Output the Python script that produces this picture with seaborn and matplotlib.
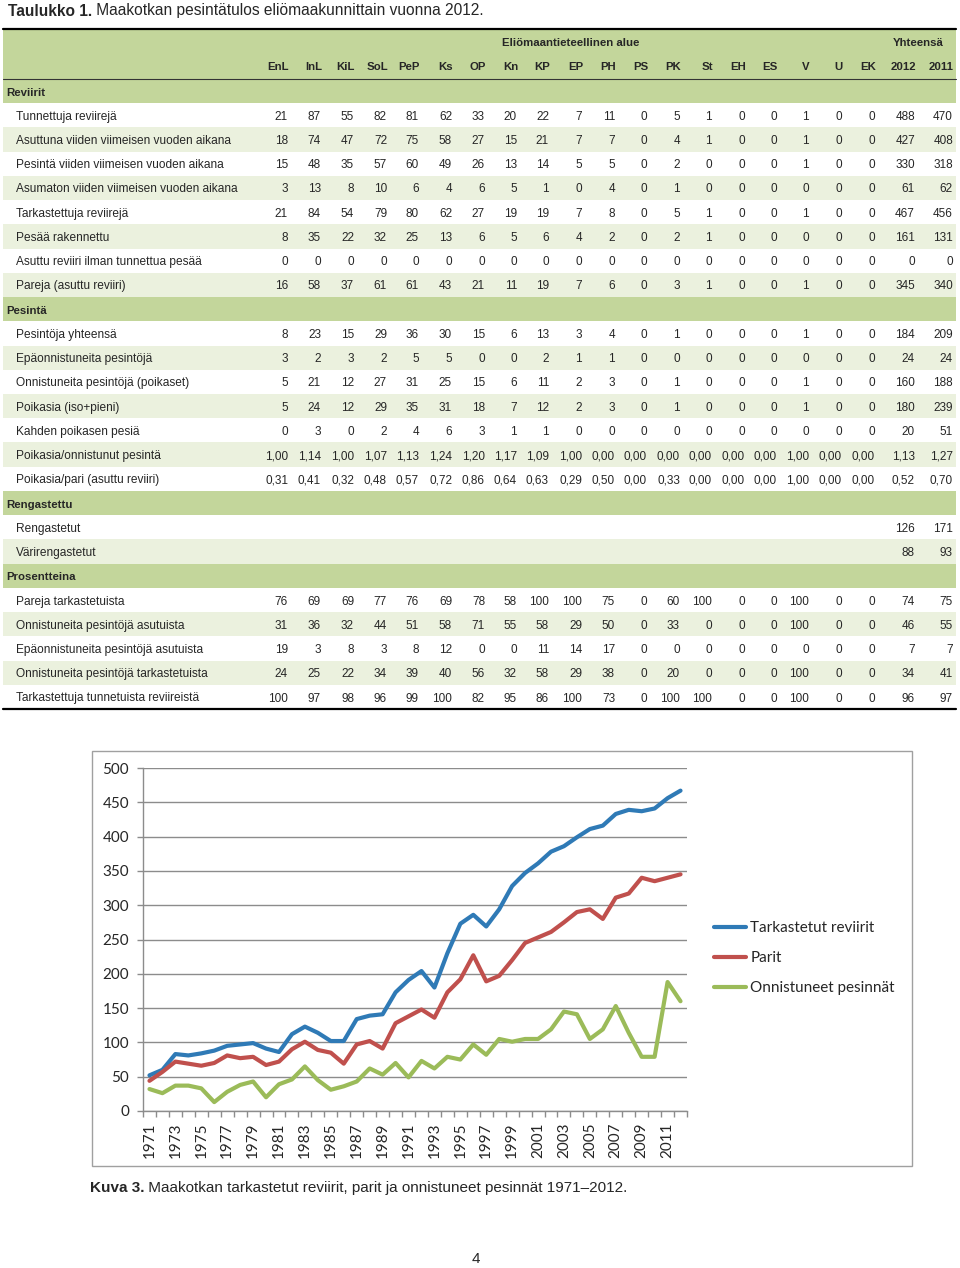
import matplotlib
matplotlib.use("Agg")
import matplotlib.pyplot as plt
from matplotlib import font_manager
from matplotlib.patches import Rectangle
import numpy as np
import pandas as pd
import seaborn as sns

# ---------------- table data ----------------
columns = ["EnL", "InL", "KiL", "SoL", "PeP", "Ks", "OP", "Kn", "KP", "EP", "PH",
           "PS", "PK", "St", "EH", "ES", "V", "U", "EK", "2012", "2011"]

reviirit_rows = [
    ("Tunnettuja reviirejä", [21, 87, 55, 82, 81, 62, 33, 20, 22, 7, 11, 0, 5, 1, 0, 0, 1, 0, 0, 488, 470]),
    ("Asuttuna viiden viimeisen vuoden aikana", [18, 74, 47, 72, 75, 58, 27, 15, 21, 7, 7, 0, 4, 1, 0, 0, 1, 0, 0, 427, 408]),
    ("Pesintä viiden viimeisen vuoden aikana", [15, 48, 35, 57, 60, 49, 26, 13, 14, 5, 5, 0, 2, 0, 0, 0, 1, 0, 0, 330, 318]),
    ("Asumaton viiden viimeisen vuoden aikana", [3, 13, 8, 10, 6, 4, 6, 5, 1, 0, 4, 0, 1, 0, 0, 0, 0, 0, 0, 61, 62]),
    ("Tarkastettuja reviirejä", [21, 84, 54, 79, 80, 62, 27, 19, 19, 7, 8, 0, 5, 1, 0, 0, 1, 0, 0, 467, 456]),
    ("Pesää rakennettu", [8, 35, 22, 32, 25, 13, 6, 5, 6, 4, 2, 0, 2, 1, 0, 0, 0, 0, 0, 161, 131]),
    ("Asuttu reviiri ilman tunnettua pesää", [0, 0, 0, 0, 0, 0, 0, 0, 0, 0, 0, 0, 0, 0, 0, 0, 0, 0, 0, 0, 0]),
    ("Pareja (asuttu reviiri)", [16, 58, 37, 61, 61, 43, 21, 11, 19, 7, 6, 0, 3, 1, 0, 0, 1, 0, 0, 345, 340]),
]

pesinta_rows = [
    ("Pesintöja yhteensä", [8, 23, 15, 29, 36, 30, 15, 6, 13, 3, 4, 0, 1, 0, 0, 0, 1, 0, 0, 184, 209]),
    ("Epäonnistuneita pesintöjä", [3, 2, 3, 2, 5, 5, 0, 0, 2, 1, 1, 0, 0, 0, 0, 0, 0, 0, 0, 24, 24]),
    ("Onnistuneita pesintöjä (poikaset)", [5, 21, 12, 27, 31, 25, 15, 6, 11, 2, 3, 0, 1, 0, 0, 0, 1, 0, 0, 160, 188]),
    ("Poikasia (iso+pieni)", [5, 24, 12, 29, 35, 31, 18, 7, 12, 2, 3, 0, 1, 0, 0, 0, 1, 0, 0, 180, 239]),
    ("Kahden poikasen pesiä", [0, 3, 0, 2, 4, 6, 3, 1, 1, 0, 0, 0, 0, 0, 0, 0, 0, 0, 0, 20, 51]),
    ("Poikasia/onnistunut pesintä", [1.00, 1.14, 1.00, 1.07, 1.13, 1.24, 1.20, 1.17, 1.09, 1.00, 0.00, 0.00,
                                    0.00, 0.00, 0.00, 0.00, 1.00, 0.00, 0.00, 1.13, 1.27]),
    ("Poikasia/pari (asuttu reviiri)", [0.31, 0.41, 0.32, 0.48, 0.57, 0.72, 0.86, 0.64, 0.63, 0.29, 0.50, 0.00,
                                       0.33, 0.00, 0.00, 0.00, 1.00, 0.00, 0.00, 0.52, 0.70]),
]

rengas_rows = [
    ("Rengastetut", [None] * 19 + [126, 171]),
    ("Värirengastetut", [None] * 19 + [88, 93]),
]

prosentti_rows = [
    ("Pareja tarkastetuista", [76, 69, 69, 77, 76, 69, 78, 58, 100, 100, 75, 0, 60, 100, 0, 0, 100, 0, 0, 74, 75]),
    ("Onnistuneita pesintöjä asutuista", [31, 36, 32, 44, 51, 58, 71, 55, 58, 29, 50, 0, 33, 0, 0, 0, 100, 0, 0, 46, 55]),
    ("Epäonnistuneita pesintöjä asutuista", [19, 3, 8, 3, 8, 12, 0, 0, 11, 14, 17, 0, 0, 0, 0, 0, 0, 0, 0, 7, 7]),
    ("Onnistuneita pesintöjä tarkastetuista", [24, 25, 22, 34, 39, 40, 56, 32, 58, 29, 38, 0, 20, 0, 0, 0, 100, 0, 0, 34, 41]),
    ("Tarkastettuja tunnetuista reviireistä", [100, 97, 98, 96, 99, 100, 82, 95, 86, 100, 73, 0, 100, 100, 0, 0, 100, 0, 0, 96, 97]),
]

sections = [("Reviirit", reviirit_rows), ("Pesintä", pesinta_rows),
            ("Rengastettu", rengas_rows), ("Prosentteina", prosentti_rows)]

# ---------------- chart data ----------------
years = list(range(1971, 2013))
tarkastetut = [52, 60, 83, 81, 84, 88, 95, 97, 99, 91,
               86, 112, 123, 114, 102, 102, 134, 139, 141, 173,
               191, 204, 180, 230, 273, 286, 269, 294, 328, 347,
               361, 378, 386, 399, 411, 416, 433, 439, 437, 441,
               456, 467]
parit = [44, 57, 72, 69, 66, 70, 81, 77, 79, 67,
         72, 90, 101, 89, 85, 69, 97, 102, 91, 128,
         138, 148, 136, 173, 192, 227, 189, 197, 220, 245,
         253, 261, 275, 290, 294, 280, 311, 317, 340, 335,
         340, 345]
onnistuneet = [32, 26, 37, 37, 33, 13, 28, 38, 43, 20,
               39, 46, 65, 45, 31, 36, 43, 62, 53, 70,
               49, 73, 62, 79, 75, 97, 82, 105, 101, 105,
               105, 119, 145, 141, 105, 119, 153, 114, 79, 79,
               188, 160]
series_names = ["Tarkastetut reviirit", "Parit", "Onnistuneet pesinnät"]
series_colors = ["#2f7ab6", "#c0504d", "#9bbb59"]

# ---------------- style ----------------
sns.set_theme(style="white")
plt.rcParams["font.family"] = ["Liberation Sans", "DejaVu Sans"]
installed = {f.name for f in font_manager.fontManager.ttflist}
narrow = "Liberation Sans Narrow" if "Liberation Sans Narrow" in installed else "Liberation Sans"
head_size = 9.8 if narrow == "Liberation Sans Narrow" else 8.2

DARK = "#c3d69b"
LIGHT = "#ebf1de"
GRID = "#8c8c8c"

fig = plt.figure(figsize=(9.6, 12.68), dpi=100)
page = fig.add_axes([0, 0, 1, 1])
page.set_xlim(0, 960)
page.set_ylim(1268, 0)
page.axis("off")
renderer = fig.canvas.get_renderer()


def bold_then_plain(x, y, bold, plain, size, family):
    t = page.text(x, y, bold, weight="bold", size=size, va="center", family=family)
    w = t.get_window_extent(renderer).width
    page.text(x + w, y, plain, size=size, va="center", family=family)


# title
bold_then_plain(8, 11, "Taulukko 1.", " Maakotkan pesintätulos eliömaakunnittain vuonna 2012.", 11.2, narrow)

# table geometry
left, right = 3, 956
col_right = [288, 321, 354, 387, 419, 452, 485, 517, 549, 582, 615, 647, 680,
             712, 745, 777, 809, 842, 875, 915, 953]
y0, step = 91, 24.24
dy = 1.5  # small shift so text sits like the reference

page.add_patch(Rectangle((left, 29), right - left, 50, color=DARK, lw=0))
page.plot([left, right], [29, 29], color="black", lw=1.6)
page.plot([left, right], [79, 79], color="#333333", lw=0.8)
page.text(571, 41 + dy, "Eliömaantieteellinen alue", weight="bold", size=head_size,
          ha="center", va="center", family=narrow)
page.text(944, 41 + dy, "Yhteensä", weight="bold", size=head_size, ha="right", va="center", family=narrow)
for name, xr in zip(columns, col_right):
    page.text(xr + 1, 65 + dy, name, weight="bold", size=head_size, ha="right", va="center", family=narrow)


def fmt(v):
    if v is None:
        return ""
    if isinstance(v, float):
        return f"{v:.2f}".replace(".", ",")
    return str(v)


i = 0
for sec_name, rows in sections:
    yc = y0 + i * step
    page.add_patch(Rectangle((left, yc - step / 2), right - left, step, color=DARK, lw=0))
    page.text(6, yc + dy, sec_name, weight="bold", size=head_size, va="center", family=narrow)
    i += 1
    for k, (label, vals) in enumerate(rows):
        yc = y0 + i * step
        if k % 2 == 1:
            page.add_patch(Rectangle((left, yc - step / 2), right - left, step, color=LIGHT, lw=0))
        page.text(16, yc + dy, label, size=8.6, va="center")
        for v, xr in zip(vals, col_right):
            page.text(xr, yc + dy, fmt(v), size=8.5, va="center", ha="right")
        i += 1
y_end = y0 + (i - 0.5) * step
page.plot([left, right], [y_end, y_end], color="black", lw=1.6)

# chart frame
page.add_patch(Rectangle((92, 751), 820, 415, fill=False, edgecolor="#a0a0a0", lw=1))

# ---------------- line chart ----------------
df = pd.DataFrame({
    "Vuosi": years * 3,
    "Arvo": tarkastetut + parit + onnistuneet,
    "Sarja": [series_names[0]] * len(years) + [series_names[1]] * len(years) + [series_names[2]] * len(years),
})

ax = fig.add_axes([143 / 960, 1 - 1111 / 1268, (687 - 143) / 960, (1111 - 768) / 1268])
sns.lineplot(data=df, x="Vuosi", y="Arvo", hue="Sarja", hue_order=series_names,
             palette=series_colors, linewidth=3, ax=ax)

ax.set_xlim(1970.5, 2012.5)
ax.set_ylim(0, 500)
ax.set_xlabel("")
ax.set_ylabel("")
ax.set_yticks(range(0, 501, 50))
ax.set_xticks(years[::2])
ax.set_xticklabels([str(y) for y in years[::2]], rotation=90)
ax.set_xticks(np.arange(1970.5, 2013.0, 1), minor=True)
ax.yaxis.grid(True, color=GRID, lw=1)
ax.xaxis.grid(False)
ax.set_axisbelow(True)
for s in ["top", "right"]:
    ax.spines[s].set_visible(False)
for s in ["left", "bottom"]:
    ax.spines[s].set_color(GRID)
    ax.spines[s].set_linewidth(1)
ax.tick_params(axis="x", which="major", length=0, pad=8, labelsize=11, labelfontfamily="Lato")
ax.tick_params(axis="x", which="minor", length=4.5, width=1, color=GRID, direction="out", bottom=True)
ax.tick_params(axis="y", which="major", length=4, width=1, color=GRID, direction="out", left=True,
               pad=6, labelsize=11, labelfontfamily="Lato")

sns.move_legend(ax, "center left", bbox_to_anchor=(706 / 960, 1 - 958 / 1268),
                bbox_transform=fig.transFigure, title=None, frameon=False,
                handlelength=2.1, handletextpad=0.3, labelspacing=1.05, borderpad=0,
                prop={"family": "Lato", "size": 11})

# caption and page number
bold_then_plain(90, 1188, "Kuva 3.", " Maakotkan tarkastetut reviirit, parit ja onnistuneet pesinnät 1971–2012.",
                11.0, narrow)
page.text(476, 1259, "4", size=11, ha="center", va="center", family=narrow)

fig.savefig("out.png", dpi=100)
